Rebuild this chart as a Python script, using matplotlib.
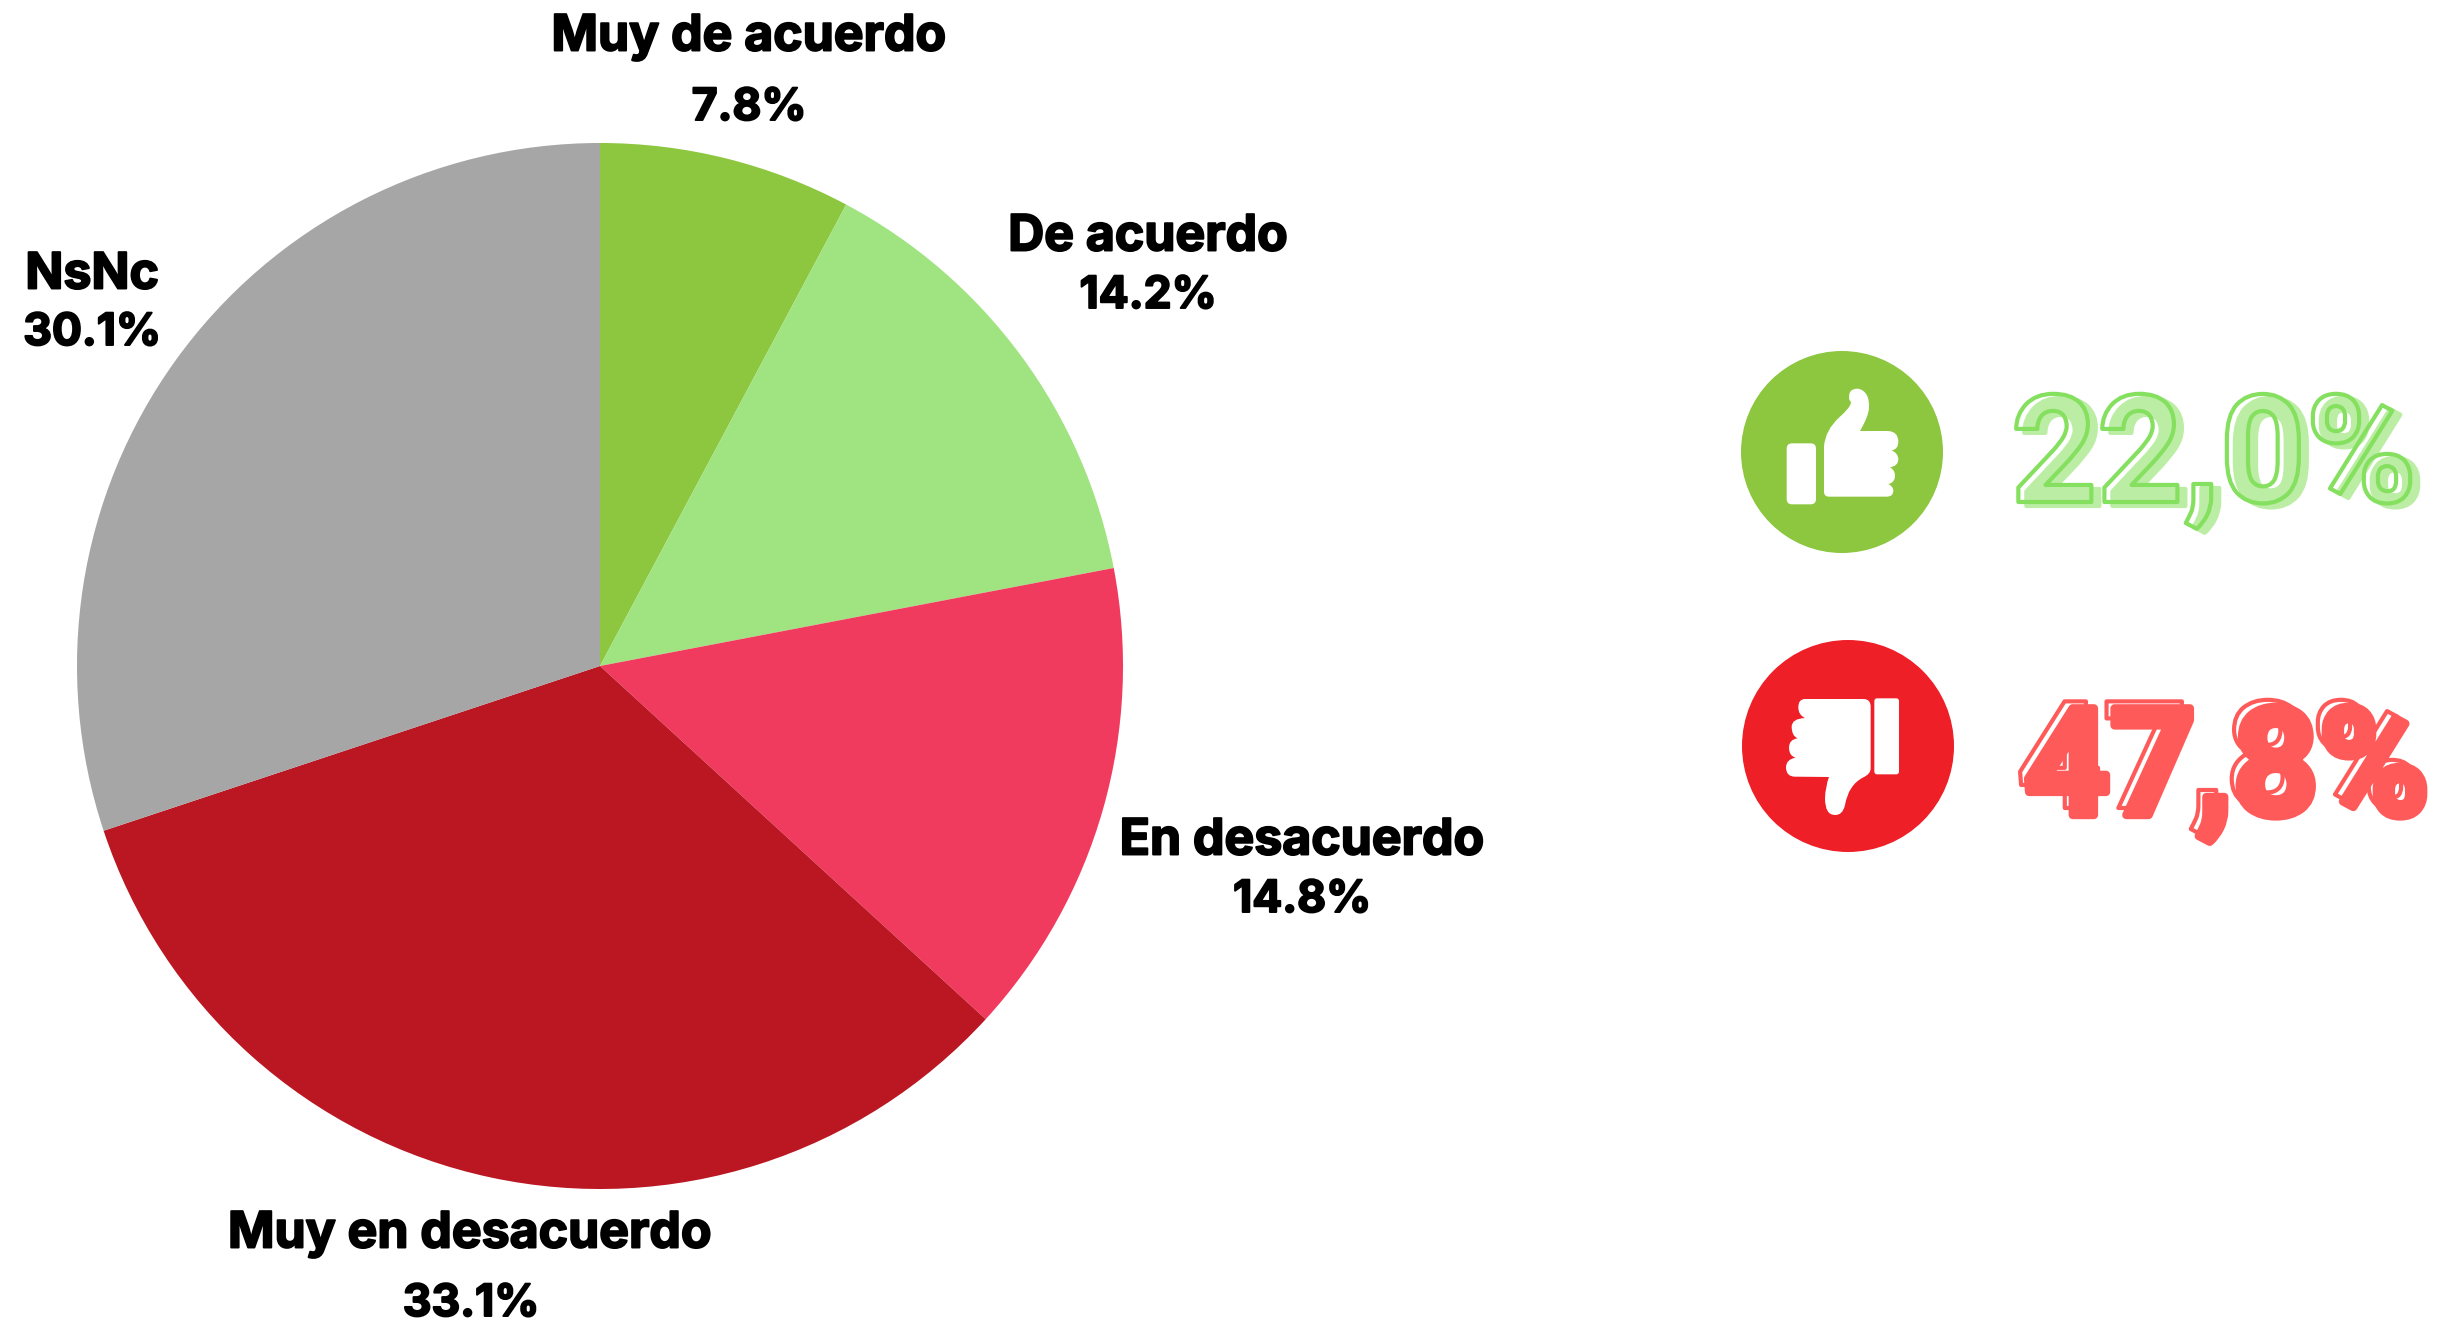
import matplotlib
matplotlib.use("Agg")
import matplotlib.pyplot as plt
import matplotlib.patheffects as pe
from matplotlib.path import Path
from matplotlib.patches import PathPatch, Circle

categorias = ['Muy de acuerdo', 'De acuerdo', 'En desacuerdo', 'Muy en desacuerdo', 'NsNc']
valores = [7.8, 14.2, 14.8, 33.1, 30.1]
colores = ['#8DC63F', '#A0E381', '#F03B5E', '#BA1722', '#A6A6A6']
total_acuerdo = '22,0%'
total_desacuerdo = '47,8%'

W, H = 2447, 1325
FUENTE = ['Inter', 'DejaVu Sans']
FUENTE_TOTAL = ['Roboto', 'DejaVu Sans']

fig = plt.figure(figsize=(W / 100, H / 100), dpi=100)
ax = fig.add_axes([0, 0, 1, 1])

# tarta
ax.pie(valores, colors=colores, startangle=90, counterclock=False,
       center=(600, H - 666), radius=523, frame=True)
ax.set_xlim(0, W)
ax.set_ylim(0, H)
ax.set_aspect('auto')
ax.axis('off')

# etiquetas: centro del nombre y del valor en pixeles
pos_nombre = [(749, 37), (1148, 237), (1302, 841), (470, 1234), (92, 275)]
pos_valor = [(749, 108), (1148, 296), (1302, 900), (471, 1304), (92, 333)]
grueso = [pe.withStroke(linewidth=1.4, foreground='black')]
for cat, val, pn, pv in zip(categorias, valores, pos_nombre, pos_valor):
    ax.text(pn[0], H - pn[1], cat, ha='center', va='center', fontsize=36,
            fontweight='bold', family=FUENTE, color='black', path_effects=grueso)
    ax.text(pv[0], H - pv[1], f'{val}%', ha='center', va='center', fontsize=32,
            fontweight='bold', family=FUENTE, color='black', path_effects=grueso)


def icono(puntos, ox, oy):
    # puntos: lista de (codigo, x, y) medidos en el recorte 3x
    verts, codes = [], []
    for c, x, y in puntos:
        verts.append((ox + x / 3, H - (oy + y / 3)))
        codes.append(c)
    return Path(verts, codes)


M, L, Q = Path.MOVETO, Path.LINETO, Path.CURVE3


def curva(cx, cy, x, y):
    return [(Q, cx, cy), (Q, x, y)]


def rect_redondo(x0, y0, x1, y1, r):
    p = [(M, x0 + r, y0), (L, x1 - r, y0)]
    p += curva(x1, y0, x1, y0 + r) + [(L, x1, y1 - r)]
    p += curva(x1, y1, x1 - r, y1) + [(L, x0 + r, y1)]
    p += curva(x0, y1, x0, y1 - r) + [(L, x0, y0 + r)]
    p += curva(x0, y0, x0 + r, y0)
    return p


ax.add_patch(Circle((1842, H - 452), 101, color='#8DC63F', lw=0))
ax.add_patch(Circle((1848, H - 746), 106, color='#EE1F27', lw=0))

# pulgar arriba
mano = [(M, 192, 230)]
mano += curva(195, 180, 240, 140) + curva(285, 100, 268, 90)
mano += curva(262, 55, 295, 56) + curva(330, 65, 327, 115)
mano += curva(325, 140, 300, 183) + [(L, 385, 183)]
mano += curva(415, 185, 415, 215) + curva(415, 238, 395, 241)
mano += curva(415, 250, 415, 268) + curva(415, 288, 390, 292)
mano += curva(405, 300, 405, 317) + curva(405, 338, 385, 342)
mano += curva(400, 350, 400, 362) + curva(400, 380, 380, 380)
mano += [(L, 207, 380)] + curva(192, 380, 192, 365) + [(L, 192, 230)]
ax.add_patch(PathPatch(icono(mano, 1760, 370), fc='white', lw=0))
ax.add_patch(PathPatch(icono(rect_redondo(80, 220, 168, 403, 16), 1760, 370), fc='white', lw=0))

# pulgar abajo
mano = [(M, 135, 87), (L, 312, 87)]
mano += curva(332, 88, 332, 110) + [(L, 332, 295)]
mano += curva(332, 312, 310, 322) + curva(265, 345, 255, 405)
mano += curva(248, 436, 225, 435) + curva(195, 435, 195, 385)
mano += curva(196, 350, 207, 321) + [(L, 105, 320)]
mano += curva(78, 320, 78, 292) + curva(78, 268, 107, 263)
mano += curva(87, 258, 87, 233) + curva(87, 208, 113, 205)
mano += curva(95, 198, 95, 170) + curva(95, 146, 135, 144)
mano += curva(115, 135, 115, 112) + curva(115, 87, 135, 87)
ax.add_patch(PathPatch(icono(mano, 1760, 670), fc='white', lw=0))
ax.add_patch(PathPatch(icono(rect_redondo(343, 85, 417, 313, 8), 1760, 670), fc='white', lw=0))


class SoloBorde(pe.AbstractPathEffect):
    # dibuja el contorno del texto sin rellenarlo
    def __init__(self, color, lw):
        super().__init__()
        self.color = color
        self.lw = lw

    def draw_path(self, renderer, gc, tpath, affine, rgbFace=None):
        gc0 = renderer.new_gc()
        gc0.copy_properties(gc)
        gc0.set_foreground(self.color)
        gc0.set_linewidth(self.lw)
        renderer.draw_path(gc0, tpath, affine, None)
        gc0.restore()


def total(txt, x, y, sombra, borde, dx, dy, size, extra):
    ax.text(x + dx, H - (y + dy), txt, color=sombra, fontsize=size, fontweight='bold',
            family=FUENTE_TOTAL, ha='left', va='baseline',
            path_effects=[pe.withStroke(linewidth=extra, foreground=sombra)])
    ax.text(x, H - y, txt, color=borde, fontsize=size, fontweight='bold',
            family=FUENTE_TOTAL, ha='left', va='baseline',
            path_effects=[SoloBorde(borde, 3.0)])


total(total_acuerdo, 2011, 502, '#BCEDA5', '#85E05F', 8, 4, 108, 3)
total(total_desacuerdo, 2016, 808, '#FF5A5A', '#FF5A5A', 8, 7, 108, 6)

fig.savefig('out.png', dpi=100)
